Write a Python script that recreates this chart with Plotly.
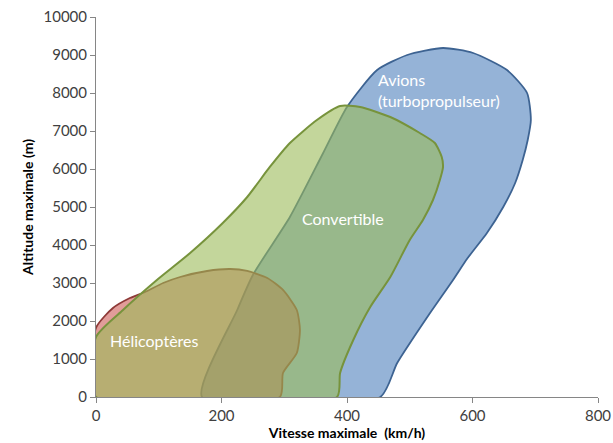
import plotly.graph_objects as go

# Data (speed km/h, altitude m) — envelope outlines
avions_v = [169, 225, 250, 309, 362, 400, 448, 496, 553, 601, 655, 687, 693, 688, 680, 668, 649, 623, 592, 569, 528, 480, 453, 169]
avions_h = [0, 2289, 3211, 4737, 6421, 7632, 8605, 9000, 9184, 9053, 8605, 8000, 7289, 6763, 6237, 5632, 5000, 4316, 3650, 3079, 2105, 895, 0, 0]

conv_v = [0, 0, 43, 97, 150, 202, 241, 277, 309, 352, 389, 421, 469, 516, 540, 551, 553, 548, 537, 521, 500, 469, 437, 410, 389, 384, 0]
conv_h = [0, 1579, 2289, 3079, 3789, 4579, 5263, 6053, 6684, 7289, 7658, 7632, 7368, 6947, 6684, 6316, 6053, 5711, 5184, 4658, 4132, 3158, 2368, 1500, 632, 0, 0]

heli_v = [0, 0, 27, 54, 78, 107, 134, 177, 214, 241, 273, 298, 320, 325, 320, 298, 293, 0]
heli_h = [0, 1816, 2342, 2605, 2763, 3000, 3158, 3316, 3368, 3316, 3132, 2816, 2289, 1763, 1158, 632, 0, 0]

x_ticks = [0, 200, 400, 600, 800]
y_ticks = list(range(0, 10001, 1000))
y_tick_labels = [str(v) for v in y_ticks]

FONT = "Lato, Open Sans, sans-serif"

fig = go.Figure()
fig.add_trace(go.Scatter(x=avions_v, y=avions_h, mode="lines", fill="toself",
                         fillcolor="rgb(149,179,215)",
                         line=dict(color="#3d6392", width=1.8, shape="spline", smoothing=0.6),
                         hoverinfo="skip", showlegend=False))
fig.add_trace(go.Scatter(x=heli_v, y=heli_h, mode="lines", fill="toself",
                         fillcolor="rgba(200,75,70,0.55)",
                         line=dict(color="#8e3a38", width=1.8, shape="spline", smoothing=0.6),
                         hoverinfo="skip", showlegend=False))
fig.add_trace(go.Scatter(x=conv_v, y=conv_h, mode="lines", fill="toself",
                         fillcolor="rgba(155,187,89,0.6)",
                         line=dict(color="#77933c", width=2, shape="spline", smoothing=0.6),
                         hoverinfo="skip", showlegend=False))

txt = dict(color="white", size=16, family=FONT)
fig.add_annotation(x=94, y=1474, text="Hélicoptères", showarrow=False, font=txt)
fig.add_annotation(x=394, y=4710, text="Convertible", showarrow=False, font=txt)
fig.add_annotation(x=446, y=8090, text="Avions<br>(turbopropulseur)", showarrow=False,
                   xanchor="left", align="left", font=txt)

axis_common = dict(showgrid=False, zeroline=False, showline=True, linecolor="#868686",
                   linewidth=1, ticks="outside", tickcolor="#868686", ticklen=5,
                   automargin=False, ticklabeloverflow="allow",
                   tickfont=dict(size=15, color="#404040", family=FONT))
fig.update_xaxes(range=[0, 800], tickvals=x_ticks, **axis_common,
                 title=dict(text="<b>Vitesse maximale  (km/h)</b>", standoff=2,
                            font=dict(size=14, color="black", family=FONT)))
fig.update_yaxes(range=[0, 10000], tickvals=y_ticks, ticktext=y_tick_labels, **axis_common,
                 title=dict(text="<b>Altitude maximale (m)</b>", standoff=6,
                            font=dict(size=14, color="black", family=FONT)))
fig.update_layout(width=613, height=443, margin=dict(l=96, r=15, t=17, b=46),
                  plot_bgcolor="white", paper_bgcolor="white")
fig.write_html("out.html", config={"displayModeBar": False},
               post_script="document.body.style.margin='0';document.body.style.overflow='hidden';")
